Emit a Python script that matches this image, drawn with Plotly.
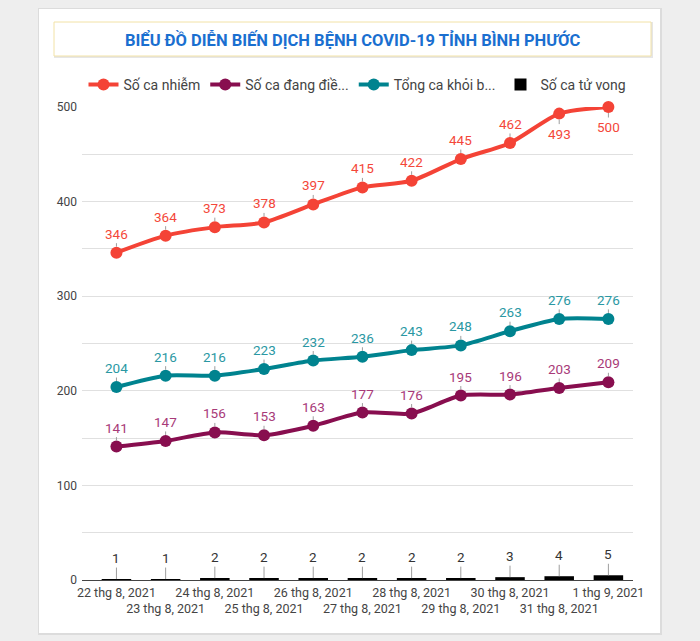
import plotly.graph_objects as go

dates = ["22 thg 8, 2021", "23 thg 8, 2021", "24 thg 8, 2021", "25 thg 8, 2021",
         "26 thg 8, 2021", "27 thg 8, 2021", "28 thg 8, 2021", "29 thg 8, 2021",
         "30 thg 8, 2021", "31 thg 8, 2021", "1 thg 9, 2021"]
so_ca_nhiem = [346, 364, 373, 378, 397, 415, 422, 445, 462, 493, 500]
dang_dieu_tri = [141, 147, 156, 153, 163, 177, 176, 195, 196, 203, 209]
khoi_benh = [204, 216, 216, 223, 232, 236, 243, 248, 263, 276, 276]
tu_vong = [1, 1, 2, 2, 2, 2, 2, 2, 3, 4, 5]
y_ticks = [0, 50, 100, 150, 200, 250, 300, 350, 400, 450, 500]

W, H = 700, 641
L, R, T, B = 82, 633, 107, 580


def px(x):
    return (x - L) / (R - L)


def py(y):
    return (B - y) / (B - T)


RED = "#f44336"
MAROON = "#880e4f"
TEAL = "#00838f"
RED_LBL = "#f4473a"
MAROON_LBL = "#a83a78"
TEAL_LBL = "#2a98a3"

fig = go.Figure()

fig.add_trace(go.Bar(x=dates, y=tu_vong, name="Số ca tử vong", marker_color="#000000",
                     marker_line_width=0, cliponaxis=False))

series = [
    ("Số ca nhiễm", so_ca_nhiem, RED, RED_LBL),
    ("Số ca đang điề...", dang_dieu_tri, MAROON, MAROON_LBL),
    ("Tổng ca khỏi b...", khoi_benh, TEAL, TEAL_LBL),
]
for name, vals, col, _ in series:
    fig.add_trace(go.Scatter(x=dates, y=vals, name=name, mode="lines+markers",
                             line=dict(color=col, width=4, shape="spline", smoothing=0.7),
                             marker=dict(color=col, size=12), cliponaxis=False))

annotations = []
for name, vals, col, lcol in series:
    for i, (d, v) in enumerate(zip(dates, vals)):
        below = (name == "Số ca nhiễm" and i >= 9)
        annotations.append(dict(x=d, y=v, xref="x", yref="y", text=str(v),
                                showarrow=True, arrowhead=0, arrowwidth=1,
                                arrowcolor="#9e9e9e", ax=0, ay=20 if below else -19,
                                standoff=6, font=dict(size=13.5, color=lcol, family="Roboto")))
for d, v in zip(dates, tu_vong):
    annotations.append(dict(x=d, y=v, xref="x", yref="y", text=str(v),
                            showarrow=True, arrowhead=0, arrowwidth=1,
                            arrowcolor="#9e9e9e", ax=0, ay=-21, standoff=0,
                            font=dict(size=13.5, color="#333333", family="Roboto")))

# title box
annotations.append(dict(x=px(353), y=py(40), xref="paper", yref="paper",
                        text="<b>BIỂU ĐỒ DIỄN BIẾN DỊCH BỆNH COVID-19 TỈNH BÌNH PHƯỚC</b>",
                        showarrow=False, font=dict(size=16.5, color="#1a6fd0", family="Roboto"),
                        xanchor="center", yanchor="middle"))

shapes = [
    # card shadow
    dict(type="rect", xref="paper", yref="paper", x0=px(38), x1=px(662), y0=py(635), y1=py(8),
         fillcolor="#dcdcdc", line_width=0, layer="below"),
    # card
    dict(type="rect", xref="paper", yref="paper", x0=px(39), x1=px(660), y0=py(633), y1=py(9),
         fillcolor="#ffffff", line_width=0, layer="below"),
    # title box shadow
    dict(type="rect", xref="paper", yref="paper", x0=px(54), x1=px(653), y0=py(58), y1=py(22),
         fillcolor="#e6e6e6", line_width=0, layer="below"),
    dict(type="rect", xref="paper", yref="paper", x0=px(54), x1=px(651), y0=py(56), y1=py(22),
         fillcolor="#ffffff", line=dict(color="#f2e2a6", width=1), layer="below"),
]

ticktext = [("<br>" + d) if i % 2 == 1 else d for i, d in enumerate(dates)]

fig.update_layout(
    width=W, height=H,
    margin=dict(l=L, r=W - R, t=T, b=H - B, pad=0, autoexpand=False),
    paper_bgcolor="#eeeeee", plot_bgcolor="rgba(0,0,0,0)",
    font=dict(family="Roboto", size=12, color="#444444"),
    bargap=0.4,
    showlegend=True,
    legend=dict(orientation="h", x=0.5, xanchor="center", y=py(85), yanchor="middle",
                font=dict(size=14, color="#444444", family="Roboto"),
                traceorder="normal", bgcolor="rgba(0,0,0,0)"),
    annotations=annotations, shapes=shapes,
    xaxis=dict(type="category", range=[-0.7, 10.5], tickmode="array", tickvals=dates,
               ticktext=ticktext, showgrid=False, ticks="", showline=False, tickangle=0,
               automargin=False, ticklabelstandoff=3, tickfont=dict(size=12.5, color="#444444")),
    yaxis=dict(range=[0, 500], tickmode="array", tickvals=y_ticks,
               ticktext=[str(v) if v % 100 == 0 else "" for v in y_ticks],
               showgrid=True, gridcolor="#e0e0e0", gridwidth=1, automargin=False,
               zeroline=True, zerolinecolor="#444444", zerolinewidth=1,
               ticks="", ticklabelstandoff=4, tickfont=dict(size=12, color="#444444")),
)

# legend order: lines first then bar
fig.data[0].legendrank = 1004
for i, tr in enumerate(fig.data[1:]):
    tr.legendrank = 1000 + i

fig.write_html("out.html")
